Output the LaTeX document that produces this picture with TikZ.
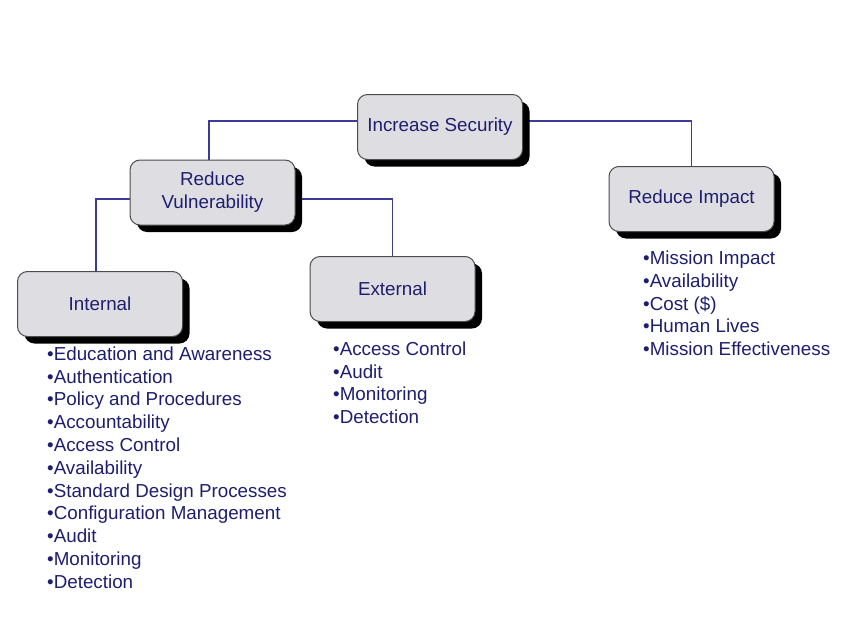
\documentclass[tikz,border=0pt]{standalone}
\usepackage{fontspec}
\setmainfont{Liberation Sans}
\usetikzlibrary{shadows,backgrounds}
\definecolor{navy}{RGB}{30,30,110}
\definecolor{linkblue}{RGB}{60,60,150}
\definecolor{boxgrey}{RGB}{222,222,226}
\tikzset{
  goal/.style={shape=rectangle,rounded corners=10pt,draw=black!70,line width=1pt,
    fill=boxgrey,minimum width=165pt,minimum height=65pt,align=center,text=navy,
    font=\fontsize{18.8}{23}\selectfont,
    drop shadow={shadow xshift=7pt,shadow yshift=-7pt,fill=black,opacity=1}},
  listitem/.style={anchor=base west,inner sep=0pt,text=navy,font=\fontsize{18.8}{23}\selectfont},
  link/.style={draw=linkblue,line width=1.2pt}
}
\begin{document}
\begin{tikzpicture}[x=1pt,y=-1pt]
    \useasboundingbox (0,0) rectangle (850,637);
    \node[goal] (IS) at (440,127) {Increase Security};
    \node[goal] (RV) at (212.5,192.5) {Reduce\\Vulnerability};
    \node[goal] (Int) at (100,304) {Internal};
    \node[goal] (Ext) at (392.5,289) {External};
    \node[goal] (RI) at (691.5,199) {Reduce Impact};
    \begin{scope}[on background layer]
    \draw[link] ([yshift=6pt]IS.west) -| ([xshift=-3.5pt]RV.north);
    \draw[link] ([yshift=6pt]IS.east) -| (RI.north);
    \draw[link] ([yshift=-6.5pt]RV.west) -| ([xshift=-4pt]Int.north);
    \draw[link] ([yshift=-6.5pt]RV.east) -| (Ext.north);
    \end{scope}
    \foreach \txt [count=\i] in {Education and Awareness,Authentication,Policy and Procedures,
      Accountability,Access Control,Availability,Standard Design Processes,
      Configuration Management,Audit,Monitoring,Detection}
      \node[listitem] (int-\i) at (47,{360.2+22.8*(\i-1)}) {•\txt};
    \foreach \txt [count=\i] in {Access Control,Audit,Monitoring,Detection}
      \node[listitem] (ext-\i) at (333,{355.2+22.8*(\i-1)}) {•\txt};
    \foreach \txt [count=\i] in {Mission Impact,Availability,Cost (\$),Human Lives,Mission Effectiveness}
      \node[listitem] (imp-\i) at (643,{264.2+22.9*(\i-1)}) {•\txt};
\end{tikzpicture}
\end{document}
